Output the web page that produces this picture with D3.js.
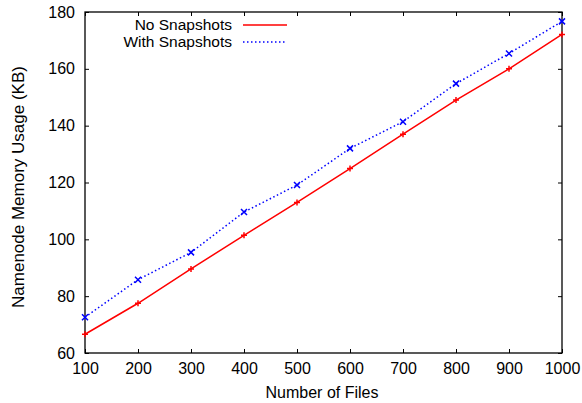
<!DOCTYPE html>
<html>
<head>
<meta charset="utf-8">
<script src="https://cdn.jsdelivr.net/npm/d3@7"></script>
<style>
  body { margin: 0; background: #fff; }
  text { font-family: "Liberation Sans", Arial, Helvetica, sans-serif; fill: #000; }
</style>
</head>
<body>
<div id="chart"></div>
<script>
// data
var files = [100, 200, 300, 400, 500, 600, 700, 800, 900, 1000];
var noSnapshots = [66.6, 77.5, 89.6, 101.4, 113.0, 124.9, 137.0, 149.0, 160.0, 172.1];
var withSnapshots = [72.6, 85.8, 95.4, 109.6, 119.1, 132.0, 141.4, 154.8, 165.4, 176.7];
var xTicks = [100, 200, 300, 400, 500, 600, 700, 800, 900, 1000];
var yTicks = [60, 80, 100, 120, 140, 160, 180];

var width = 582, height = 403;
var margin = {top: 12, right: 20, bottom: 50, left: 85};

var svg = d3.select("#chart").append("svg")
    .attr("width", width)
    .attr("height", height);

var x = d3.scaleLinear().domain([100, 1000]).range([margin.left, width - margin.right]);
var y = d3.scaleLinear().domain([60, 180]).range([height - margin.bottom, margin.top]);

var tickLen = 4;

// ticks on all four sides, pointing inward (gnuplot style)
var bottomAxis = d3.axisBottom(x).tickValues(xTicks).tickSizeInner(-tickLen).tickSizeOuter(0)
    .tickPadding(10).tickFormat(d3.format("d"));
var leftAxis = d3.axisLeft(y).tickValues(yTicks).tickSizeInner(-tickLen).tickSizeOuter(0)
    .tickPadding(10).tickFormat(d3.format("d"));
var topAxis = d3.axisTop(x).tickValues(xTicks).tickSizeInner(-tickLen).tickSizeOuter(0).tickFormat("");
var rightAxis = d3.axisRight(y).tickValues(yTicks).tickSizeInner(-tickLen).tickSizeOuter(0).tickFormat("");

function styleAxis(g) {
    g.select(".domain").remove();
    g.selectAll(".tick line").attr("stroke", "#000").attr("stroke-width", 1);
    g.selectAll(".tick text").style("font-size", "16px");
}

svg.append("g").attr("transform", "translate(0," + y(60) + ")").call(bottomAxis).call(styleAxis);
svg.append("g").attr("transform", "translate(" + x(100) + ",0)").call(leftAxis).call(styleAxis);
svg.append("g").attr("transform", "translate(0," + y(180) + ")").call(topAxis).call(styleAxis);
svg.append("g").attr("transform", "translate(" + x(1000) + ",0)").call(rightAxis).call(styleAxis);

// frame
svg.append("rect")
    .attr("x", x(100))
    .attr("y", y(180))
    .attr("width", x(1000) - x(100))
    .attr("height", y(60) - y(180))
    .attr("fill", "none")
    .attr("stroke", "#000")
    .attr("stroke-width", 1.3);

// axis labels
svg.append("text")
    .attr("x", 322)
    .attr("y", 398)
    .attr("text-anchor", "middle")
    .style("font-size", "16px")
    .text("Number of Files");

svg.append("text")
    .attr("transform", "translate(24,187) rotate(-90)")
    .attr("text-anchor", "middle")
    .style("font-size", "17px")
    .text("Namenode Memory Usage (KB)");

var line = d3.line()
    .x(function(d, i) { return x(files[i]); })
    .y(function(d) { return y(d); });

// No Snapshots: solid red with + markers
svg.append("path")
    .datum(noSnapshots)
    .attr("d", line)
    .attr("fill", "none")
    .attr("stroke", "#ff0000")
    .attr("stroke-width", 1.5);

svg.append("g").selectAll("path")
    .data(noSnapshots)
    .enter().append("path")
    .attr("d", function(d, i) {
        var cx = x(files[i]), cy = y(d), s = 3;
        return "M" + (cx - s) + "," + cy + "H" + (cx + s) + "M" + cx + "," + (cy - s) + "V" + (cy + s);
    })
    .attr("stroke", "#ff0000")
    .attr("stroke-width", 1.5);

// With Snapshots: dotted blue with x markers
svg.append("path")
    .datum(withSnapshots)
    .attr("d", line)
    .attr("fill", "none")
    .attr("stroke", "#0000ff")
    .attr("stroke-width", 1.5)
    .attr("stroke-dasharray", "1.5,2.5");

svg.append("g").selectAll("path")
    .data(withSnapshots)
    .enter().append("path")
    .attr("d", function(d, i) {
        var cx = x(files[i]), cy = y(d), s = 3;
        return "M" + (cx - s) + "," + (cy - s) + "L" + (cx + s) + "," + (cy + s) +
               "M" + (cx - s) + "," + (cy + s) + "L" + (cx + s) + "," + (cy - s);
    })
    .attr("stroke", "#0000ff")
    .attr("stroke-width", 1.5);

// legend
var legend = [
    {name: "No Snapshots", color: "#ff0000", dash: null, y: 25},
    {name: "With Snapshots", color: "#0000ff", dash: "1.5,2.5", y: 42}
];

legend.forEach(function(l) {
    svg.append("text")
        .attr("x", 232)
        .attr("y", l.y + 5)
        .attr("text-anchor", "end")
        .style("font-size", "15.5px")
        .text(l.name);
    svg.append("line")
        .attr("x1", 243)
        .attr("x2", 287)
        .attr("y1", l.y)
        .attr("y2", l.y)
        .attr("stroke", l.color)
        .attr("stroke-width", 1.5)
        .attr("stroke-dasharray", l.dash);
});
</script>
</body>
</html>
